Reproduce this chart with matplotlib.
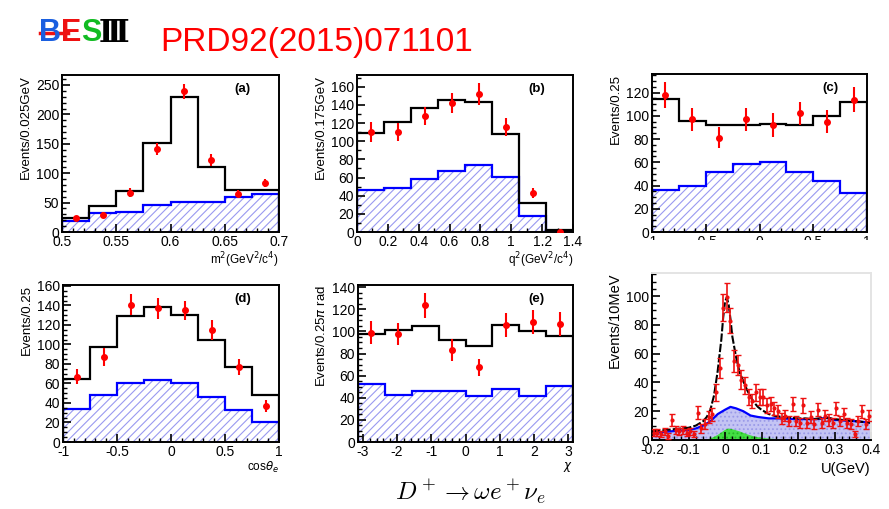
import numpy as np
import matplotlib
matplotlib.use("Agg")
import matplotlib.pyplot as plt
from matplotlib.ticker import MultipleLocator, AutoMinorLocator, FuncFormatter
from matplotlib.patches import Rectangle
from matplotlib.lines import Line2D

plt.rcParams['font.family'] = ['Liberation Sans', 'DejaVu Sans']
plt.rcParams['hatch.linewidth'] = 0.8
plt.rcParams['axes.unicode_minus'] = False

# ---- data ----
# (a) m^2
a_edges = [0.5, 0.525, 0.55, 0.575, 0.6, 0.625, 0.65, 0.675, 0.7]
a_total = [24, 45, 69, 152, 229, 110, 72, 71]
a_bkg = [19, 32, 34.5, 46, 51, 51, 59, 64.5]
a_data = [24, 29, 67, 141, 239, 122, 65, 83]
a_err = [4, 5, 7, 10, 13, 10, 6, 7]

# (b) q^2
b_edges = [0, 0.175, 0.35, 0.525, 0.7, 0.875, 1.05, 1.225, 1.4]
b_total = [109, 121, 137, 146, 143.6, 107.7, 32, 2]
b_bkg = [46, 49, 58.6, 67.4, 74, 61, 18, 1.5]
b_data = [110.6, 110, 128, 142, 152, 116, 43, 0]
b_err = [11, 10, 10, 11, 12, 10, 6, 0.5]

# (c) cos theta_V
c_edges = [-1, -0.75, -0.5, -0.25, 0, 0.25, 0.5, 0.75, 1]
c_total = [114.3, 95.7, 92.3, 91.7, 93, 92, 100, 111.7]
c_bkg = [35.8, 39.3, 51.6, 58.5, 60, 51.6, 43.5, 34]
c_data = [118, 97, 81, 97, 92, 102, 95, 114]
c_err = [11, 10, 9, 10, 10, 10, 10, 11]

# (d) cos theta_e
d_edges = [-1, -0.75, -0.5, -0.25, 0, 0.25, 0.5, 0.75, 1]
d_total = [65, 97.6, 128.8, 138.4, 130, 105, 76.7, 48.6]
d_bkg = [34, 48.6, 60, 64, 60.6, 46, 33, 21]
d_data = [67, 87, 141, 137, 135, 115, 77, 37]
d_err = [8, 9, 11, 11, 10, 10, 8, 6]

# (e) chi
e_edges = [-np.pi, -0.75 * np.pi, -0.5 * np.pi, -0.25 * np.pi, 0,
           0.25 * np.pi, 0.5 * np.pi, 0.75 * np.pi, np.pi]
e_total = [97.6, 101.5, 104.5, 92.5, 87, 106, 100.6, 96]
e_bkg = [52.4, 42.8, 45.8, 45.8, 41.9, 47.9, 41.9, 50.3]
e_data = [99, 97.6, 123.5, 83, 67.5, 106, 108.4, 107]
e_err = [10, 10, 11, 10, 8, 11, 11, 11]

# (f) U distribution
u_centers = [-0.195, -0.185, -0.175, -0.165, -0.155, -0.145, -0.135, -0.125,
             -0.115, -0.105, -0.095, -0.085, -0.075, -0.065, -0.055, -0.045,
             -0.035, -0.025, -0.015, -0.005, 0.005, 0.015, 0.025, 0.035,
             0.045, 0.055, 0.065, 0.075, 0.085, 0.095, 0.105, 0.115,
             0.125, 0.135, 0.145, 0.155, 0.165, 0.175, 0.185, 0.195,
             0.205, 0.215, 0.225, 0.235, 0.245, 0.255, 0.265, 0.275,
             0.285, 0.295, 0.305, 0.315, 0.325, 0.335, 0.345, 0.355,
             0.365, 0.375, 0.385, 0.395]
u_counts = [5, 5, 4, 6, 3, 14, 7, 6, 7, 5, 6, 4, 19, 8, 11, 16,
            18, 33, 50, 92, 99, 83, 55, 52, 42, 38, 30, 27, 33, 30, 30, 24,
            25, 22, 20, 15, 17, 13, 25, 13, 12, 24, 12, 16, 11, 21, 12, 17,
            14, 12, 22, 13, 18, 12, 11, 4, 13, 20, 11, 17]
u_err = [2.5, 2.5, 2, 2.5, 2, 4, 3, 2.5, 3, 2.5, 2.5, 2, 4.5, 3, 3.5, 4,
         4.5, 6, 7, 9.5, 10, 9, 7.5, 7, 6.5, 6, 5.5, 5, 6, 5.5, 5.5, 5,
         5, 4.5, 4.5, 4, 4, 3.5, 5, 3.5, 3.5, 5, 3.5, 4, 3.5, 4.5, 3.5, 4,
         4, 3.5, 4.5, 3.5, 4, 3.5, 3.5, 2, 3.5, 4.5, 3.5, 4]

tot_u = [-0.2, -0.18, -0.16, -0.14, -0.12, -0.1, -0.08, -0.06, -0.05, -0.04,
         -0.03, -0.02, -0.01, -0.005, 0.0, 0.005, 0.01, 0.015, 0.02, 0.03,
         0.04, 0.05, 0.06, 0.07, 0.08, 0.09, 0.1, 0.12, 0.14, 0.16, 0.18,
         0.2, 0.22, 0.24, 0.26, 0.28, 0.3, 0.32, 0.34, 0.36, 0.38, 0.4]
tot_y = [6, 6.5, 7, 7.5, 8, 8.5, 10, 13, 16, 21,
         31, 48, 70, 85, 96, 99, 94, 84, 72, 58,
         47, 41, 35, 30, 26, 23, 21, 18, 16.5, 16, 15.5,
         15, 15, 14.5, 15, 15.5, 14.5, 14, 13.5, 13, 12.5, 12]

bkg_u = [-0.2, -0.15, -0.1, -0.08, -0.06, -0.04, -0.02, 0.0, 0.015, 0.03,
         0.05, 0.07, 0.09, 0.12, 0.15, 0.2, 0.25, 0.28, 0.3, 0.33, 0.36, 0.4]
bkg_y = [5, 6, 7, 8, 10, 13, 18, 21, 23, 22,
         20, 17, 16, 15, 15, 14.5, 14.5, 15.5, 14, 13.5, 13, 12]

sig_u = [-0.06, -0.04, -0.02, 0.0, 0.01, 0.02, 0.04, 0.06, 0.08, 0.1,
         0.12, 0.15, 0.2]
sig_y = [0, 1, 3.5, 7, 8, 7.5, 6, 4, 2.5, 1.5, 1, 0.5, 0]


fig = plt.figure(figsize=(8.89, 5.09), dpi=100)

W, H = 889.0, 509.0
plain = FuncFormatter(lambda v, p: '%g' % round(v, 6))


def box(l, t, r, b):
    return [l / W, 1 - b / H, (r - l) / W, (b - t) / H]


def style(ax, xmaj, xmin_n, ymaj, ymin_n):
    for s in ax.spines.values():
        s.set_linewidth(1.4)
    ax.xaxis.set_major_locator(MultipleLocator(xmaj))
    ax.xaxis.set_minor_locator(AutoMinorLocator(xmin_n))
    ax.yaxis.set_major_locator(MultipleLocator(ymaj))
    ax.yaxis.set_minor_locator(AutoMinorLocator(ymin_n))
    ax.xaxis.set_major_formatter(plain)
    ax.yaxis.set_major_formatter(plain)
    ax.tick_params(which='both', direction='in', top=False, right=False,
                   labelsize=10, pad=2)
    ax.tick_params(which='major', length=6, width=1.2)
    ax.tick_params(which='minor', length=3, width=1.0)


def hist_panel(rect, edges, total, bkg, data, err, xlim, ylim, ylabel, xlabel,
               tag, xmaj, xmin_n, ymaj, ymin_n):
    ax = fig.add_axes(rect)
    centers = [(edges[i] + edges[i + 1]) / 2 for i in range(len(edges) - 1)]
    ax.stairs(bkg, edges, fill=True, facecolor='none', edgecolor='#9a9af0',
              hatch='////', linewidth=0)
    ax.stairs(bkg, edges, color='#0000ff', linewidth=1.6)
    ax.stairs(total, edges, color='black', linewidth=1.6)
    ax.errorbar(centers, data, yerr=err, fmt='o', color='#ff0000',
                markersize=4, elinewidth=1.5, capsize=0, zorder=5)
    ax.set_xlim(*xlim)
    ax.set_ylim(*ylim)
    style(ax, xmaj, xmin_n, ymaj, ymin_n)
    ax.set_ylabel(ylabel, loc='top', fontsize=9.5, labelpad=3)
    if xlabel:
        ax.set_xlabel(xlabel, loc='right', fontsize=8.5, labelpad=1)
    ax.text(0.83, 0.91, tag, transform=ax.transAxes, fontsize=9.5,
            fontweight='bold', ha='center', va='center')
    return ax


hist_panel(box(62, 75, 279, 232), a_edges, a_total, a_bkg, a_data, a_err,
           (0.5, 0.7), (0, 267), 'Events/0.025GeV',
           r'm$^2$(GeV$^2$/c$^4$)', '(a)', 0.05, 5, 50, 5)
hist_panel(box(357, 75, 573, 232), b_edges, b_total, b_bkg, b_data, b_err,
           (0, 1.4), (0, 173), 'Events/0.175GeV',
           r'q$^2$(GeV$^2$/c$^4$)', '(b)', 0.2, 2, 20, 2)
hist_panel(box(652, 74, 867, 232), c_edges, c_total, c_bkg, c_data, c_err,
           (-1, 1), (0, 136), 'Events/0.25',
           None, '(c)', 0.5, 5, 20, 4)
hist_panel(box(63, 285, 279, 442), d_edges, d_total, d_bkg, d_data, d_err,
           (-1, 1), (0, 161), 'Events/0.25',
           r'cos$\theta_e$', '(d)', 0.5, 5, 20, 4)
hist_panel(box(358, 285, 573, 442), e_edges, e_total, e_bkg, e_data, e_err,
           (-np.pi, np.pi), (0, 142), r'Events/0.25$\pi$ rad',
           r'$\chi$', '(e)', 1, 5, 20, 4)

# (f) U distribution
axf = fig.add_axes(box(652, 273, 871, 440))
axf.fill_between(bkg_u, bkg_y, color='#c4c4f4', hatch='....',
                 edgecolor='#9a9ae8', linewidth=0)
axf.fill_between(sig_u, sig_y, color='#44dd44', hatch='....',
                 edgecolor='#22bb22', linewidth=0)
axf.plot(bkg_u, bkg_y, color='#0000ff', linewidth=1.6)
axf.plot(tot_u, tot_y, color='black', linewidth=1.5, linestyle=(0, (4, 1)))
axf.errorbar(u_centers, u_counts, yerr=u_err, fmt='o', color='#ee1111',
             markersize=2, elinewidth=1.2, capsize=2, capthick=1, zorder=5)
axf.set_xlim(-0.2, 0.4)
axf.set_ylim(0, 116)
style(axf, 0.1, 5, 20, 4)
for side in ('top', 'right'):
    axf.spines[side].set_color('#e4e4e4')
axf.set_ylabel('Events/10MeV', loc='top', fontsize=10.5, labelpad=3)
axf.set_xlabel('U(GeV)', loc='right', fontsize=10.5, labelpad=4)

# panel (c) tick labels are cut off in the original
fig.add_artist(Rectangle((600 / W, 1 - 262 / H), 289 / W, 22 / H,
                         transform=fig.transFigure, facecolor='white',
                         edgecolor='none', zorder=10))

# header: logo + reference
logo_font = ['Liberation Sans', 'DejaVu Sans']
fig.text(50 / W, 1 - 33 / H, 'B', color='#1a5fe0', fontsize=22,
         fontweight='bold', family=logo_font, ha='center', va='center')
fig.text(71 / W, 1 - 33 / H, 'E', color='#ee1111', fontsize=22,
         fontweight='bold', family=logo_font, ha='center', va='center')
fig.text(91 / W, 1 - 33 / H, 'S', color='#11bb22', fontsize=22,
         fontweight='bold', family=logo_font, ha='center', va='center')
fig.text(114 / W, 1 - 33 / H, '\u2162', color='black', fontsize=22,
         fontweight='bold', family=['DejaVu Serif', 'DejaVu Sans'],
         ha='center', va='center')
fig.add_artist(Line2D([40 / W, 68 / W], [1 - 33 / H, 1 - 33 / H],
                      color='#ee1111', linewidth=2.5,
                      transform=fig.transFigure))
fig.text(160 / W, 1 - 42 / H, 'PRD92(2015)071101', color='#ff0000',
         fontsize=24, ha='left', va='center')

fig.text(470 / W, 1 - 492 / H, r'$D^+ \to \omega e^+ \nu_e$', fontsize=18,
         ha='center', va='center', math_fontfamily='cm')

fig.savefig('out.png', dpi=100)
